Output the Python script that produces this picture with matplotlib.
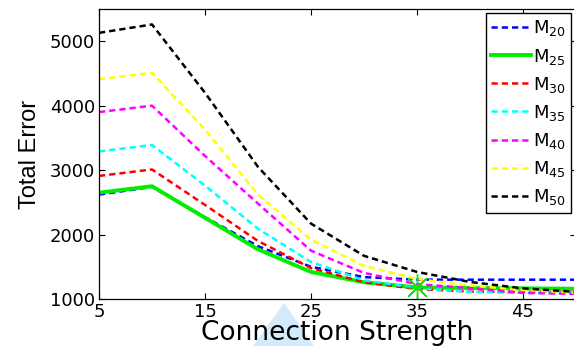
import matplotlib
matplotlib.use('Agg')
import matplotlib.pyplot as plt
from matplotlib.patches import Polygon

# Fuerza de conexion
strength = [5, 10, 15, 20, 25, 30, 35, 40, 45, 50]

# Error total para cada modelo
m20 = [2620, 2740, 2270, 1820, 1500, 1340, 1300, 1300, 1300, 1300]
m25 = [2650, 2750, 2260, 1770, 1420, 1260, 1180, 1170, 1165, 1160]
m30 = [2910, 3010, 2460, 1900, 1480, 1260, 1155, 1115, 1110, 1110]
m35 = [3290, 3390, 2760, 2090, 1575, 1290, 1170, 1110, 1095, 1095]
m40 = [3900, 4000, 3220, 2480, 1750, 1405, 1230, 1170, 1095, 1080]
m45 = [4410, 4510, 3630, 2620, 1920, 1515, 1310, 1210, 1140, 1100]
m50 = [5130, 5260, 4200, 3050, 2170, 1670, 1420, 1265, 1165, 1110]

# Punto optimo marcado
best_x = 35
best_y = 1180

labels = [r'$\mathrm{M}_{20}$', r'$\mathrm{M}_{25}$', r'$\mathrm{M}_{30}$',
          r'$\mathrm{M}_{35}$', r'$\mathrm{M}_{40}$', r'$\mathrm{M}_{45}$',
          r'$\mathrm{M}_{50}$']

plt.rcParams['font.family'] = ['DejaVu Sans']
plt.rcParams['mathtext.fontset'] = 'dejavusans'

fig = plt.figure(figsize=(5.74, 3.46), dpi=100)
ax = fig.add_axes([0.1725, 0.1358, 0.831, 0.8382])

dash = (2.5, 1.6)
ax.plot(strength, m20, color='#0000ff', lw=1.8, dashes=dash, label=labels[0])
ax.plot(strength, m25, color='#00ee00', lw=2.8, label=labels[1])
ax.plot(strength, m30, color='#ff0000', lw=1.8, dashes=dash, label=labels[2])
ax.plot(strength, m35, color='#00ffff', lw=1.8, dashes=dash, label=labels[3])
ax.plot(strength, m40, color='#ff00ff', lw=1.8, dashes=dash, label=labels[4])
ax.plot(strength, m45, color='#ffff00', lw=1.8, dashes=dash, label=labels[5])
ax.plot(strength, m50, color='#000000', lw=1.8, dashes=dash, label=labels[6])
ax.plot([best_x], [best_y], marker=(8, 2, 0), markersize=19, color='#00ee00',
        markeredgewidth=1.0, linestyle='none')

ax.set_xlim(5, 50)
ax.set_ylim(1000, 5500)
ax.set_xticks([5, 15, 25, 35, 45])
ax.set_yticks([1000, 2000, 3000, 4000, 5000])
ax.tick_params(direction='in', length=4, width=0.8, top=True, right=True,
               labelsize=13, pad=3)
for s in ax.spines.values():
    s.set_linewidth(0.9)

ax.set_xlabel('Connection Strength', fontsize=19, labelpad=-1)
ax.set_ylabel('Total Error', fontsize=17, family='Liberation Sans', labelpad=6)

leg = ax.legend(loc='upper right', bbox_to_anchor=(0.9948, 0.9624),
                bbox_transform=fig.transFigure, fontsize=13, frameon=True,
                fancybox=False, framealpha=1, edgecolor='black',
                handlelength=2.2, handletextpad=0.1, labelspacing=0.45,
                borderpad=0.3, borderaxespad=0)
leg.get_frame().set_linewidth(1.0)

# Marca celeste al pie
fig.patches.append(Polygon([[0.4948, 0.1243], [0.4408, 0.0], [0.547, 0.0]],
                           closed=True, transform=fig.transFigure,
                           facecolor='#d2eaf9', edgecolor='none', zorder=-1))

fig.savefig('out.png', dpi=100)
